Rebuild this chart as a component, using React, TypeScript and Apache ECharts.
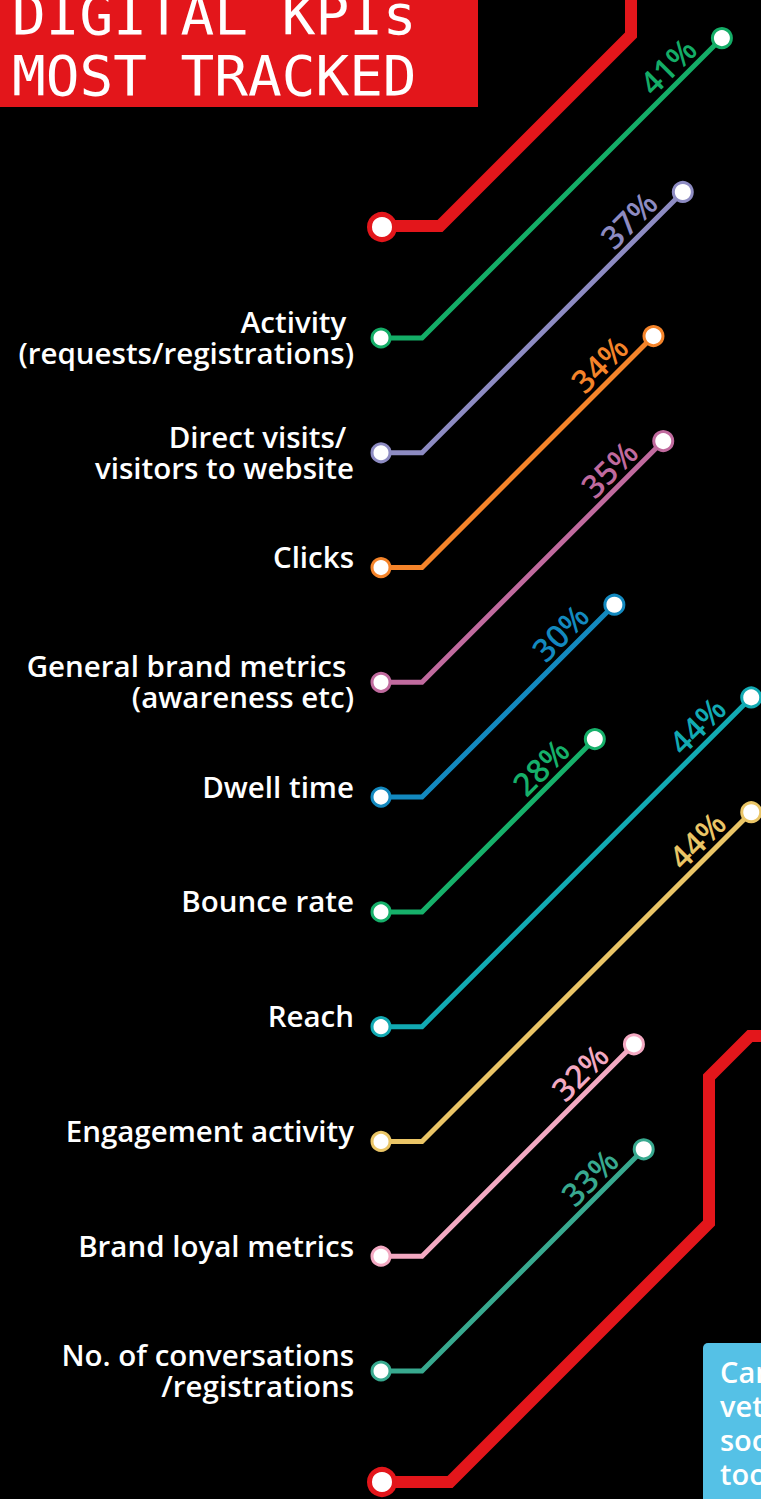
import React, { useEffect, useRef } from "react";
import * as echarts from "echarts";

const CATEGORIES = [
  "Activity\u00a0\n(requests/registrations)",
  "Direct visits/\u00a0\nvisitors to website",
  "Clicks",
  "General brand metrics\u00a0\n(awareness etc)",
  "Dwell time",
  "Bounce rate",
  "Reach",
  "Engagement activity",
  "Brand loyal metrics",
  "No. of conversations\n/registrations",
];
const VALUES = [41, 37, 34, 35, 30, 28, 44, 44, 32, 33];
const VALUE_LABELS = VALUES.map((v) => `${v}%`);
const LINE_COLORS = [
  "#14ad67",
  "#8d8bc2",
  "#f5842a",
  "#c06a9e",
  "#1389bf",
  "#16b06a",
  "#12aab3",
  "#eac566",
  "#f3a9c2",
  "#38a98f",
];
const TITLE_LINES = ["DIGITAL KPIs", "MOST TRACKED"];
const NOTE_LINES = ["Can", "vet", "soc", "too"];

const RED = "#e3161b";
const AXIS_MIN = 5;
const AXIS_MAX = 45;

export default function App() {
  const ref = useRef<HTMLDivElement>(null);
  useEffect(() => {
    const chart = echarts.init(ref.current as HTMLDivElement, null, { renderer: "svg" });
    const data = VALUES.map((v, i) => [v, i]);
    const S = Math.SQRT1_2;
    chart.setOption({
      animation: false,
      backgroundColor: "#000",
      grid: { left: 370, top: 338, width: 392, height: 1033 },
      xAxis: { type: "value", min: AXIS_MIN, max: AXIS_MAX, show: false },
      yAxis: {
        type: "category",
        data: CATEGORIES,
        inverse: true,
        boundaryGap: false,
        show: false,
      },
      series: [
        {
          type: "custom",
          clip: false,
          data,
          renderItem: (params: any, api: any) => {
            const val = api.value(0);
            const idx = api.value(1);
            const base = api.coord([AXIS_MIN, idx]);
            const endC = api.coord([val, idx]);
            const y = base[1];
            const sx = base[0] + 11;
            const cx = sx + 41;
            const ex = endC[0];
            const ey = y - (ex - cx);
            const color = LINE_COLORS[idx];
            const d = 26;
            const off = 3;
            const tx = ex - d * S - off * S;
            const ty = ey + d * S - off * S;
            const twoLine = CATEGORIES[idx].indexOf("\n") >= 0;
            return {
              type: "group",
              children: [
                {
                  type: "polyline",
                  shape: { points: [[sx, y], [cx, y], [ex, ey]] },
                  style: { stroke: color, lineWidth: 5, fill: null, lineJoin: "miter" },
                },
                {
                  type: "circle",
                  shape: { cx: sx, cy: y, r: 9 },
                  style: { fill: "#fff", stroke: color, lineWidth: 3 },
                },
                {
                  type: "circle",
                  shape: { cx: ex, cy: ey, r: 9.5 },
                  style: { fill: "#fff", stroke: color, lineWidth: 3 },
                },
                {
                  type: "text",
                  x: tx,
                  y: ty,
                  rotation: Math.PI / 4,
                  style: {
                    text: VALUE_LABELS[idx],
                    fill: color,
                    font: '600 32px "Open Sans"',
                    align: "right",
                    textAlign: "right",
                    verticalAlign: "bottom",
                    textVerticalAlign: "bottom",
                  },
                },
                {
                  type: "text",
                  x: 354,
                  y: twoLine ? y - 1 : y - 11,
                  style: {
                    text: CATEGORIES[idx],
                    fill: "#fff",
                    font: '600 29.5px "Open Sans"',
                    lineHeight: 31,
                    align: "right",
                    textAlign: "right",
                    verticalAlign: "middle",
                    textVerticalAlign: "middle",
                  },
                },
              ],
            };
          },
        },
      ],
      graphic: [
        {
          type: "rect",
          shape: { x: 0, y: -10, width: 478, height: 117 },
          style: { fill: RED },
        },
        {
          type: "text",
          x: 12,
          y: 14,
          style: {
            text: TITLE_LINES[0],
            fill: "#fff",
            font: '400 56px "DejaVu Sans Mono"',
            align: "left",
            textAlign: "left",
            verticalAlign: "middle",
            textVerticalAlign: "middle",
          },
        },
        {
          type: "text",
          x: 12,
          y: 75,
          style: {
            text: TITLE_LINES[1],
            fill: "#fff",
            font: '400 56px "DejaVu Sans Mono"',
            align: "left",
            textAlign: "left",
            verticalAlign: "middle",
            textVerticalAlign: "middle",
          },
        },
        {
          type: "polyline",
          shape: { points: [[631, -10], [631, 35], [440, 226], [381, 226]] },
          style: { stroke: RED, lineWidth: 12, fill: null, lineJoin: "miter" },
        },
        {
          type: "circle",
          shape: { cx: 382, cy: 227, r: 12.5 },
          style: { fill: "#fff", stroke: RED, lineWidth: 5 },
        },
        {
          type: "polyline",
          shape: {
            points: [[775, 1036], [750, 1036], [709, 1077], [709, 1223], [450, 1482], [381, 1482]],
          },
          style: { stroke: RED, lineWidth: 12, fill: null, lineJoin: "miter" },
        },
        {
          type: "circle",
          shape: { cx: 382, cy: 1482, r: 12.5 },
          style: { fill: "#fff", stroke: RED, lineWidth: 5 },
        },
        {
          type: "rect",
          shape: { x: 703, y: 1343, width: 100, height: 200, r: 5 },
          style: { fill: "#55c1e6" },
        },
        {
          type: "text",
          x: 720,
          y: 1354,
          style: {
            text: NOTE_LINES.join("\n"),
            fill: "#fff",
            font: '600 29px "Open Sans"',
            lineHeight: 34,
            align: "left",
            textAlign: "left",
            verticalAlign: "top",
            textVerticalAlign: "top",
          },
        },
      ],
    });
    return () => chart.dispose();
  }, []);
  return (
    <div
      ref={ref}
      style={{ position: "absolute", left: 0, top: 0, width: 761, height: 1499, background: "#000" }}
    />
  );
}
